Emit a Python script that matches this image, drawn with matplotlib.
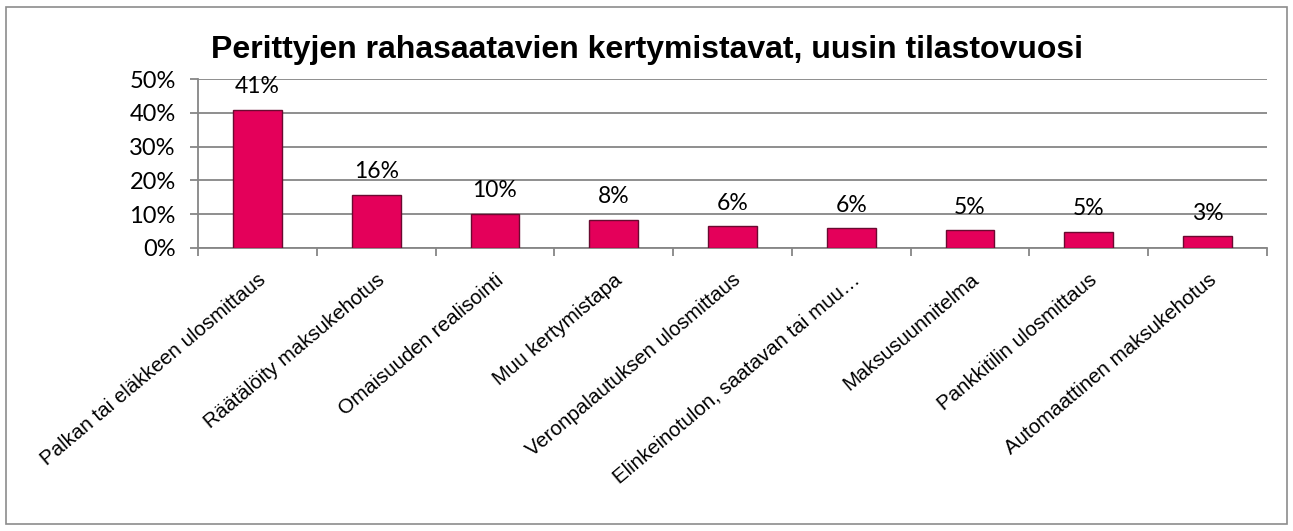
import matplotlib.pyplot as plt
from matplotlib.patches import Rectangle
from matplotlib.ticker import FuncFormatter
from matplotlib.transforms import ScaledTranslation

categories = ['Palkan tai eläkkeen ulosmittaus', 'Räätälöity maksukehotus',
              'Omaisuuden realisointi', 'Muu kertymistapa',
              'Veronpalautuksen ulosmittaus', 'Elinkeinotulon, saatavan tai muu…',
              'Maksusuunnitelma', 'Pankkitilin ulosmittaus',
              'Automaattinen maksukehotus']
values = [0.409, 0.157, 0.101, 0.084, 0.064, 0.058, 0.053, 0.048, 0.035]
labels = ['41%', '16%', '10%', '8%', '6%', '6%', '5%', '5%', '3%']

grid_col = '#868686'

fig = plt.figure(figsize=(12.93, 5.31), dpi=100)
fig.patches.append(Rectangle((6 / 1293, 7 / 531), 1281 / 1293, 517 / 531,
                             transform=fig.transFigure, fill=False,
                             edgecolor='#8c8c8c', linewidth=1.2))
ax = fig.add_axes([198 / 1293, 1 - 248 / 531, 1069 / 1293, 169 / 531])

x = range(len(categories))
ax.bar(x, values, width=0.41, color='#E4005A', edgecolor='#6a0a30',
       linewidth=1.0, zorder=3)
for i, (v, t) in enumerate(zip(values, labels)):
    ax.text(i, v + 0.037, t, ha='center', va='bottom', fontsize=16.5,
            family='Lato', zorder=4)

ax.set_ylim(0, 0.5)
ax.set_xlim(-0.5, len(categories) - 0.5)
ax.set_yticks([0, 0.1, 0.2, 0.3, 0.4, 0.5])
ax.yaxis.set_major_formatter(FuncFormatter(lambda v, p: f'{v * 100:.0f}%'))
for lab in ax.get_yticklabels():
    lab.set_family('Lato')
    lab.set_fontsize(17)
ax.grid(axis='y', color=grid_col, linewidth=1.3, zorder=0)

ax.set_xticks(list(x))
ax.set_xticklabels(categories, rotation=40, ha='right', va='top',
                   rotation_mode='anchor', fontsize=14.8,
                   family='Liberation Sans')
shift = ScaledTranslation(-3 / 100, 0, fig.dpi_scale_trans)
for lab in ax.get_xticklabels():
    lab.set_transform(lab.get_transform() + shift)
ax.set_xticks([i - 0.5 for i in range(len(categories) + 1)], minor=True)
ax.tick_params(axis='x', which='major', length=0, pad=16)
ax.tick_params(axis='x', which='minor', length=6, color=grid_col, width=1.3)
ax.tick_params(axis='y', length=6, color=grid_col, width=1.3, pad=10)

for s in ['top', 'right']:
    ax.spines[s].set_visible(False)
for s in ['left', 'bottom']:
    ax.spines[s].set_color(grid_col)
    ax.spines[s].set_linewidth(1.3)

fig.text(647 / 1293, 1 - 50 / 531,
         'Perittyjen rahasaatavien kertymistavat, uusin tilastovuosi',
         ha='center', va='center', fontsize=23, fontweight='bold',
         family='Liberation Sans')

fig.savefig('out.png', dpi=100)
